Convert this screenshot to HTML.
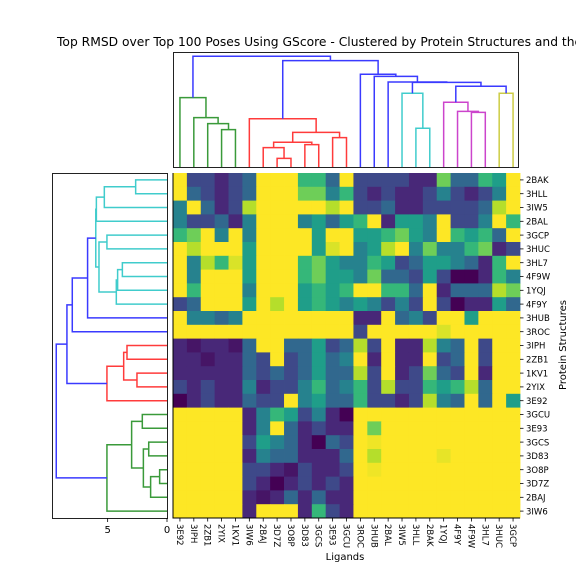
<!DOCTYPE html>
<html><head><meta charset="utf-8"><style>
body{margin:0;background:#fff;}
svg{display:block;font-family:"DejaVu Sans","Liberation Sans",sans-serif;}
</style></head><body>
<svg id="chart" width="576" height="576" viewBox="0 0 576 576">
<text x="57" y="46" font-size="12.3" fill="#000">Top RMSD over Top 100 Poses Using GScore - Clustered by Protein Structures and the</text>
<g id="heat"></g>
<g id="topd"></g>
<g id="leftd"></g>
<g id="labels"></g>
<text x="345" y="560" font-size="10" text-anchor="middle">Ligands</text>
<text transform="translate(566,345) rotate(-90)" font-size="10" text-anchor="middle">Protein Structures</text>
</svg>
<script>
const rowLabels=["2BAK","3HLL","3IW5","2BAL","3GCP","3HUC","3HL7","4F9W","1YQJ","4F9Y","3HUB","3ROC","3IPH","2ZB1","1KV1","2YIX","3E92","3GCU","3E93","3GCS","3D83","3O8P","3D7Z","2BAJ","3IW6"];
const colLabels=["3E92","3IPH","2ZB1","2YIX","1KV1","3IW6","2BAJ","3D7Z","3O8P","3D83","3GCS","3E93","3GCU","3ROC","3HUB","2BAL","3IW5","3HLL","2BAK","1YQJ","4F9Y","4F9W","3HL7","3HUC","3GCP"];
const values=[
[9,2,2,1,2,3,9,9,9,6,6,3,9,2,2,2,2,1,1,7,3,3,6,5,9],
[9,3,2,1,2,3,9,9,9,7,7,4,6,2,1,2,1,1,2,4,2,1,2,4,9],
[4,9,3,1,2,8,9,9,9,9,9,8,9,2,2,3,1,1,2,2,2,2,3,8,9],
[4,2,2,3,1,4,9,9,9,4,5,3,5,6,9,1,5,5,4,9,2,2,4,9,6],
[6,7,9,4,9,4,9,9,9,9,5,9,9,5,5,6,7,5,4,9,6,5,6,3,9],
[9,8,9,9,9,5,9,9,9,9,5,8.5,9,4,5,8,9,4,7,4,4,6,7,1,2],
[9,4,8,6,8.5,5,9,9,9,6,7,5,4,4,6,5,2,3,5,5,4,3,1,6,9],
[9,4,9,9,9,5,9,9,9,6,7,5,5,4,7,3,3,2,5,2,0,0,1,6,4],
[9,6,9,9,9,4,9,9,9,5,6,5,6,9,9,6,6,3,9,1,3,3,3,8,7],
[2,3,9,9,9,5,9,8,9,5,6,5,4,5,4,2,4,2,9,2,0,1,1,5,3],
[9,4,4,3,4,9,9,9,9,9,9,9,9,1,1,9,3,4,2,9,9,5,9,9,9],
[9,9,9,9,9,9,9,9,9,9,9,9,9,2,9,9,9,9,9,8.5,9,9,9,9,9],
[1,0.5,1,1,0.5,3,9,9,3,3,5,2,3,8,2,9,1,1,8,4,3,9,2,9,9],
[1,1,0.5,1,1,3,2,9,2,3,5,3,4,9,1,9,1,1,9,2,3,9,2,9,9],
[1,1,1,1,1,3,2,3,2,3,5,3,3,8,2,9,1,2,7,3,2,9,1,9,9],
[2,1,2,1,1,4,1,2,2,4,6,3,4,6,2,8,2,2,6,5,6,8,3,9,9],
[0,1,2,1,1,3,2,2,9,4,5,3,3,6,2,2,1,2,8,4,3,9,3,9,5],
[9,9,9,9,9,1,4,6,5,2,4,1,0,9,9,9,9,9,9,9,9,9,9,9,9],
[9,9,9,9,9,1,4,9,3,1,2,1,1,9,7,9,9,9,9,9,9,9,9,9,9],
[9,9,9,9,9,2,5,4,3,1,0,3,2,9,8.8,9,9,9,9,9,9,9,9,9,9],
[9,9,9,9,9,1,4,3,3,1,1,1,3,9,8,9,9,9,9,8.7,9,9,9,9,9],
[9,9,9,9,9,2,2,1,0.5,2,1,1,2,9,8.8,9,9,9,9,9,9,9,9,9,9],
[9,9,9,9,9,2,1,0,1,2,1,2,1,9,9,9,9,9,9,9,9,9,9,9,9],
[9,9,9,9,9,1,0.5,1,3,1,3,1,1,9,9,9,9,9,9,9,9,9,9,9,9],
[9,9,9,9,9,1,9,9,9,1,6,2,1,9,9,9,9,9,9,9,9,9,9,9,9]];
const topA=[3,2,1,0,7,6,9,30,11,32,5,17,16,21,20,19,23,40,37,15,14,13,35,28];
const topB=[4,25,26,27,8,29,10,31,12,33,34,18,36,22,38,39,24,41,42,43,44,45,46,47];
const topH=[3.15,3.65,4.16,5.84,0.73,1.63,1.88,2.08,2.47,2.92,4.07,3.26,6.21,4.6,4.69,5.45,6.21,6.8,7.13,7.16,7.64,7.81,8.96,9.33];
const topC=["g","g","g","g","r","r","r","r","r","r","r","c","c","m","m","m","y","b","b","b","b","b","b","b"];
const leftA=[0,2,4,6,8,9,27,3,32,33,34,12,14,36,38,35,17,19,21,43,42,41,46,40];
const leftB=[1,25,5,7,28,29,30,26,31,10,11,13,15,37,16,39,18,20,22,23,44,45,24,47];
const leftH=[2.64,5.28,5.06,3.76,4.16,4.27,5.73,5.95,6.0,6.69,7.98,3.37,2.53,3.65,5.06,8.43,2.08,1.54,0.62,1.38,1.99,2.98,5.06,9.33];
const leftC=["c","c","c","c","c","c","c","c","c","b","b","r","r","r","r","b","g","g","g","g","g","g","g","b"];
const leftTicks=[0,5];

const NS="http://www.w3.org/2000/svg";
const X0=173,X1=520,Y0=173,Y1=518,N=25;
const cw=(X1-X0)/N, ch=(Y1-Y0)/N;
const colX=i=>X0+i*cw, rowY=i=>Y0+i*ch;
const PXU=11.87;
const VIR=[[68,1,84],[72,40,120],[62,73,137],[49,104,142],[38,130,142],[31,158,137],[53,183,121],[110,206,88],[181,222,43],[253,231,37]];
function vcol(v){const t=Math.max(0,Math.min(9,v));const i=Math.min(8,Math.floor(t)),f=t-i;const a=VIR[i],b=VIR[i+1];return `rgb(${a.map((c,k)=>Math.round(c+(b[k]-c)*f)).join(",")})`;}
const COL={g:"#3a9a3a",r:"#ff3b3b",c:"#40cccc",m:"#cc44cc",y:"#cccc44",b:"#3a3aff"};
function mk(tag,attrs,parent){const e=document.createElementNS(NS,tag);for(const k in attrs)e.setAttribute(k,attrs[k]);parent.appendChild(e);return e;}

const heat=document.getElementById("heat");
for(let r=0;r<N;r++)for(let c=0;c<N;c++){
 const e=mk("rect",{x:colX(c),y:rowY(r),width:cw+0.4,height:ch+0.4,fill:vcol(values[r][c])},heat);
 
 
}
mk("path",{d:`M${X0},${Y0}V${Y1}H${X1}`,stroke:"#000",fill:"none","stroke-width":1},heat);

const lab=document.getElementById("labels");
rowLabels.forEach((t,i)=>{
 const y=rowY(i)+ch/2;
 mk("line",{x1:X1,x2:X1+3.5,y1:y,y2:y,stroke:"#000","stroke-width":0.8},lab);
 const e=mk("text",{x:X1+6,y:y+3.2,"font-size":8.5},lab);e.textContent=t;
 
 
});
colLabels.forEach((t,i)=>{
 const x=colX(i)+cw/2;
 mk("line",{x1:x,x2:x,y1:Y1,y2:Y1+3.5,stroke:"#000","stroke-width":0.8},lab);
 const e=mk("text",{transform:`translate(${x-3},${Y1+6}) rotate(90)`,"font-size":8.5},lab);e.textContent=t;
 
 
});

function dendro(g,A,B,H,C,pos,hmap,horizontal){
 const P={},Hh={};
 for(let i=0;i<N;i++){P[i]=pos(i);Hh[i]=0;}
 A.forEach((a,k)=>{
  const b=B[k],h=H[k],id=N+k;
  const pa=P[a],pb=P[b];
  let d;
  if(!horizontal) d=`M${pa},${hmap(Hh[a])}V${hmap(h)}H${pb}V${hmap(Hh[b])}`;
  else d=`M${hmap(Hh[a])},${pa}H${hmap(h)}V${pb}H${hmap(Hh[b])}`;
  const e=mk("path",{d,stroke:COL[C[k]],fill:"none","stroke-width":1.5},g);
  
  
  P[id]=(pa+pb)/2;Hh[id]=h;
 });
}
const topd=document.getElementById("topd");
mk("rect",{x:173.5,y:52.5,width:345,height:115,fill:"none",stroke:"#222","stroke-width":1},topd);
dendro(topd,topA,topB,topH,topC,i=>colX(i)+cw/2,h=>167-h*PXU,false);
const leftd=document.getElementById("leftd");
mk("rect",{x:52.5,y:173.5,width:115,height:345,fill:"none",stroke:"#222","stroke-width":1},leftd);
dendro(leftd,leftA,leftB,leftH,leftC,i=>rowY(i)+ch/2,h=>167-h*PXU,true);
leftTicks.forEach(t=>{
 const x=167-t*PXU;
 mk("line",{x1:x,x2:x,y1:518,y2:522,stroke:"#000","stroke-width":0.8},leftd);
 const e=mk("text",{x:x,y:533,"font-size":10,"text-anchor":"middle"},leftd);e.textContent=t;
 
 
});
</script>
</body></html>
